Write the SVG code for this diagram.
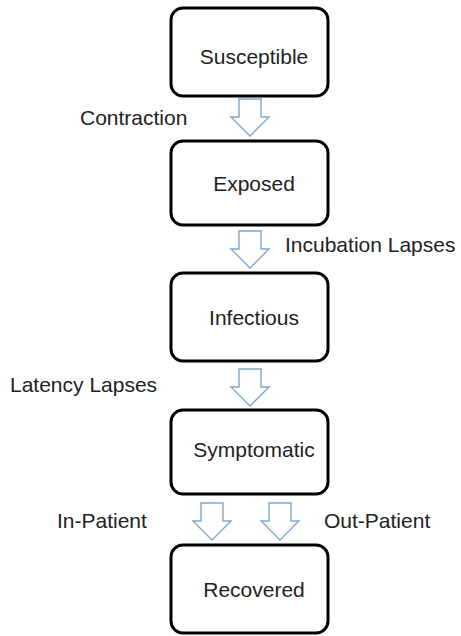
<svg xmlns="http://www.w3.org/2000/svg" width="461" height="636" viewBox="0 0 461 636">
<style>
.box{fill:#fff;stroke:#000;stroke-width:3}
.t{font-family:"Liberation Sans","Open Sans",sans-serif;font-size:21px;fill:#222}
.c{text-anchor:middle}
.arr{fill:#fff;stroke:#7fa6cc;stroke-width:1.4;stroke-linejoin:miter}
</style>
<defs>
<path id="dn" d="M-11,0 H11 V18 H19 L0,37 L-19,18 H-11 Z"/>
</defs>
<rect width="461" height="636" fill="#fff"/>
<g id="connectors">
<use href="#dn" class="arr" x="250" y="99"/>
<use href="#dn" class="arr" x="250" y="231"/>
<use href="#dn" class="arr" x="250" y="369"/>
<use href="#dn" class="arr" x="212" y="503"/>
<use href="#dn" class="arr" x="280" y="503"/>
<text class="t" x="80" y="125">Contraction</text>
<text class="t" x="285" y="252">Incubation Lapses</text>
<text class="t" x="10" y="392">Latency Lapses</text>
<text class="t" x="57" y="528">In-Patient</text>
<text class="t" x="324" y="528">Out-Patient</text>
</g>
<g id="susceptible"><rect class="box" x="171" y="8" width="157" height="88" rx="12"/><text class="t c" x="254" y="64">Susceptible</text></g>
<g id="exposed"><rect class="box" x="171" y="141" width="157" height="84" rx="12"/><text class="t c" x="254" y="191">Exposed</text></g>
<g id="infectious"><rect class="box" x="171" y="273" width="157" height="88" rx="12"/><text class="t c" x="254" y="325">Infectious</text></g>
<g id="symptomatic"><rect class="box" x="171" y="410" width="157" height="84" rx="12"/><text class="t c" x="254" y="457">Symptomatic</text></g>
<g id="recovered"><rect class="box" x="171" y="545" width="157" height="88" rx="12"/><text class="t c" x="254" y="597">Recovered</text></g>
</svg>
